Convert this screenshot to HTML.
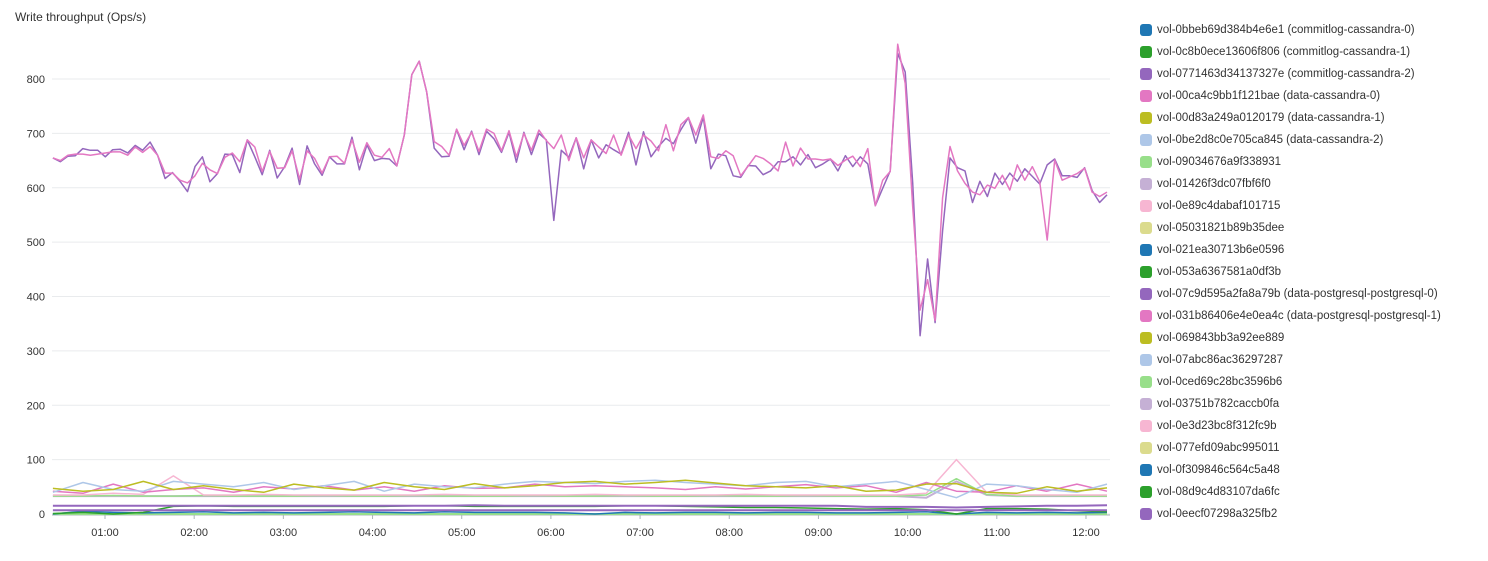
<!DOCTYPE html>
<html><head><meta charset="utf-8">
<style>
body{margin:0;background:#fff;font-family:"Liberation Sans","DejaVu Sans",sans-serif;}
#wrap{position:relative;width:1488px;height:561px;overflow:hidden;}
#title{position:absolute;left:15px;top:10px;font-size:12px;color:#333;}
#legend{position:absolute;left:1140px;top:19px;}
.li{display:flex;align-items:center;height:22px;font-size:11.5px;color:#333;white-space:nowrap;}
.sw{width:12px;height:12px;border-radius:3px;margin-right:5px;}
</style></head><body>
<div id="wrap">
<div id="title">Write throughput (Ops/s)</div>
<svg id="chart" width="1130" height="561" style="position:absolute;left:0;top:0"></svg>
<div id="legend"></div>
</div>
<script>
const yTicks=[0,100,200,300,400,500,600,700,800];
const xTickLabels=["01:00","02:00","03:00","04:00","05:00","06:00","07:00","08:00","09:00","10:00","11:00","12:00"];
const xTickHours=[1,2,3,4,5,6,7,8,9,10,11,12];
const legendNames=["vol-0bbeb69d384b4e6e1 (commitlog-cassandra-0)","vol-0c8b0ece13606f806 (commitlog-cassandra-1)","vol-0771463d34137327e (commitlog-cassandra-2)","vol-00ca4c9bb1f121bae (data-cassandra-0)","vol-00d83a249a0120179 (data-cassandra-1)","vol-0be2d8c0e705ca845 (data-cassandra-2)","vol-09034676a9f338931","vol-01426f3dc07fbf6f0","vol-0e89c4dabaf101715","vol-05031821b89b35dee","vol-021ea30713b6e0596","vol-053a6367581a0df3b","vol-07c9d595a2fa8a79b (data-postgresql-postgresql-0)","vol-031b86406e4e0ea4c (data-postgresql-postgresql-1)","vol-069843bb3a92ee889","vol-07abc86ac36297287","vol-0ced69c28bc3596b6","vol-03751b782caccb0fa","vol-0e3d23bc8f312fc9b","vol-077efd09abc995011","vol-0f309846c564c5a48","vol-08d9c4d83107da6fc","vol-0eecf07298a325fb2"];
const legendColors=["#1f77b4","#2ca02c","#9467bd","#e377c2","#bcbd22","#aec7e8","#98df8a","#c5b0d5","#f7b6d2","#dbdb8d","#1f77b4","#2ca02c","#9467bd","#e377c2","#bcbd22","#aec7e8","#98df8a","#c5b0d5","#f7b6d2","#dbdb8d","#1f77b4","#2ca02c","#9467bd"];
const pgPrimary=[655,648,658,659,672,669,669,657,670,671,664,678,669,684,660,617,628,612,593,639,657,611,626,662,661,628,688,657,624,669,618,639,673,606,677,644,623,657,644,644,693,633,679,650,654,653,640,697,808,833,776,673,657,658,707,670,704,661,704,690,665,702,647,702,661,700,688,540,669,656,692,635,688,655,679,670,662,702,642,703,657,676,691,681,707,729,682,730,635,662,659,622,619,641,640,624,631,648,648,657,642,661,637,644,653,631,659,639,657,644,567,599,631,847,813,609,328,469,352,521,655,637,631,573,612,584,627,606,627,612,635,621,607,642,653,622,622,619,637,595,573,587];
const pgSecondary=[655,650,660,662,662,660,662,664,666,666,660,675,665,676,660,627,627,614,609,622,645,633,626,656,664,648,688,675,630,667,636,637,668,616,668,654,627,657,658,645,688,647,683,660,656,672,640,697,808,833,776,685,676,660,708,678,702,667,708,700,668,705,657,700,669,706,687,672,697,650,692,655,688,675,663,697,660,697,672,697,686,668,716,668,716,729,697,734,657,654,668,659,622,640,659,654,644,631,684,640,673,653,653,651,653,641,651,658,639,672,567,614,630,864,792,565,375,431,356,582,676,631,608,592,587,605,599,623,596,642,614,639,611,504,651,614,620,626,636,592,584,592];
const lowOlive=[47,42,45,60,45,52,45,40,55,48,44,58,50,45,56,48,52,58,60,55,58,62,57,52,50,48,52,42,44,55,56,40,38,50,42,48];
const lowLightBlue=[40,58,45,42,60,55,50,58,45,52,60,42,55,50,48,55,60,58,56,60,62,58,55,52,58,60,50,55,60,45,30,55,52,45,40,55];
const lowPink=[42,38,55,40,45,48,40,50,46,52,44,50,42,52,47,48,55,50,52,50,48,45,50,46,50,54,48,52,40,58,42,40,52,42,55,42];
const lowLightPink=[35,35,38,36,70,35,35,36,35,35,35,35,35,36,35,35,35,35,36,35,35,35,35,36,35,35,35,35,35,38,100,40,35,35,35,35];
const lowLightGreen=[33,33,34,33,33,34,33,33,33,34,33,33,34,33,33,33,34,33,33,34,33,33,34,33,33,34,33,33,33,35,65,36,33,34,33,33];
const lowLavender=[33,33,33,33,33,33,33,33,33,33,33,33,33,33,33,33,33,33,33,33,33,33,33,33,33,33,33,33,33,30,60,35,33,33,33,33];
const lowPurpleA=[15,15,15,15,15,15,15,15,15,15,15,15,15,15,16,15,15,15,15,15,15,15,15,15,15,15,15,13,13,13,12,13,14,15,15,16];
const lowPurpleB=[7,7,7,7,7,7,7,7,7,7,7,7,7,7,7,7,7,7,7,7,7,7,7,7,7,7,7,7,7,7,7,7,7,7,7,7];
const lowGreen=[1,3,0,3,14,15,14,14,14,14,14,14,15,15,14,14,14,14,14,15,15,14,13,12,12,11,10,9,10,8,0,10,10,9,6,4];
const lowBlue=[0,5,3,2,3,4,2,3,2,3,4,3,2,4,3,3,3,2,0,3,2,3,3,2,3,3,2,2,3,4,0,3,2,3,2,3];
const lowZero=[0,0,0,0,0,0,0,0,0,0,0,0,0,0,0,0,0,0,0,0,0,0,0,0,0,0,0,0,0,0,0,0,0,0,0,0];

const NS="http://www.w3.org/2000/svg";
const svg=document.getElementById('chart');
const x0=52,x1=1110;
function xs(h){return 105+(h-1)*89.18;}
function ys(v){return 514-v*0.5437;}
const tStart=0.416,tEnd=12.236;
function mk(t,a){const e=document.createElementNS(NS,t);for(const k in a)e.setAttribute(k,a[k]);svg.appendChild(e);return e;}
yTicks.forEach(v=>{
  const g=mk('line',{x1:x0,x2:x1,y1:ys(v),y2:ys(v),stroke:'#e9ebed','stroke-width':1});
  
  
  const t=mk('text',{x:45,y:ys(v)+4,'text-anchor':'end','font-size':11,fill:'#333','font-family':'Liberation Sans, sans-serif'});
  t.textContent=v;
  
  
});
const ax=mk('line',{x1:x0,x2:x1,y1:515,y2:515,stroke:'#aab7b8','stroke-width':1});


xTickHours.forEach((h,i)=>{
  const tk=mk('line',{x1:xs(h),x2:xs(h),y1:515,y2:519,stroke:'#aab7b8'});
  
  
  const t=mk('text',{x:xs(h),y:536,'text-anchor':'middle','font-size':11,fill:'#333','font-family':'Liberation Sans, sans-serif'});
  t.textContent=xTickLabels[i];
  
  
});
function series(vals,color,name,w){
  const n=vals.length;
  const pts=vals.map((v,i)=>xs(tStart+(tEnd-tStart)*i/(n-1)).toFixed(1)+','+ys(v).toFixed(1)).join(' ');
  const p=mk('polyline',{points:pts,fill:'none',stroke:color,'stroke-width':w||1.5,'stroke-linejoin':'round'});
  
  
}
series(lowZero,'#98df8a','series-zero-lightgreen',2);
series(lowBlue,'#1f77b4','series-low-blue');
series(lowGreen,'#2ca02c','series-low-green');
series(lowPurpleB,'#9467bd','series-low-purple-b',2);
series(lowPurpleA,'#9467bd','series-low-purple-a',2);
series(lowLavender,'#c5b0d5','series-low-lavender',2);
series(lowLightGreen,'#98df8a','series-low-lightgreen');
series(lowLightPink,'#f7b6d2','series-low-lightpink');
series(lowPink,'#e377c2','series-low-pink');
series(lowLightBlue,'#aec7e8','series-low-lightblue');
series(lowOlive,'#bcbd22','series-low-olive');
series(pgPrimary,'#9467bd','series-postgresql-0',1.5);
series(pgSecondary,'#e377c2','series-postgresql-1',1.5);

const lg=document.getElementById('legend');
legendNames.forEach((n,i)=>{
  const d=document.createElement('div');d.className='li';
  
  
  const s=document.createElement('span');s.className='sw';s.style.background=legendColors[i];
  const t=document.createElement('span');t.textContent=n;
  d.appendChild(s);d.appendChild(t);lg.appendChild(d);
});
</script>
</body></html>
